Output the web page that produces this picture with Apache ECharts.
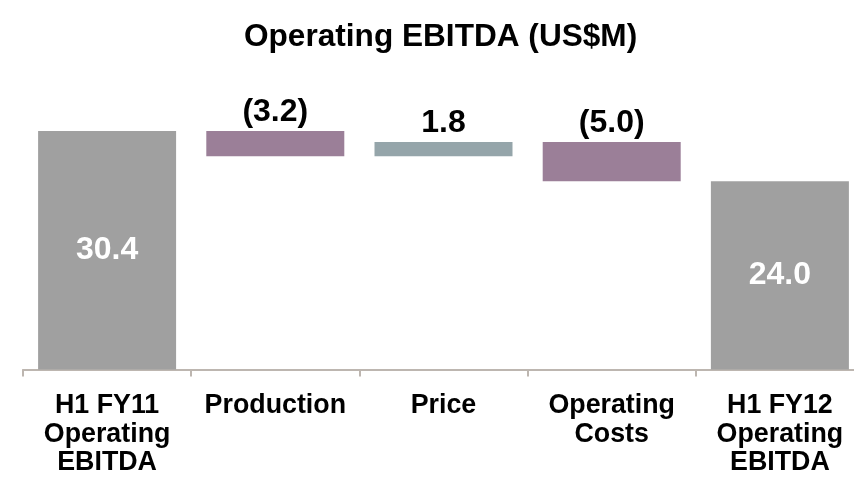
<!DOCTYPE html>
<html>
<head>
<meta charset="utf-8">
<script src="https://cdn.jsdelivr.net/npm/echarts@6/dist/echarts.min.js"></script>
<style>
    html, body { margin: 0; padding: 0; background: #fff; overflow: hidden; }
    #main { width: 864px; height: 477px; }
</style>
</head>
<body>
<div id="main"></div>
<script>
// categories and values (start, deltas, end)
var categories = ['H1 FY11\nOperating\nEBITDA', 'Production', 'Price', 'Operating\nCosts', 'H1 FY12\nOperating\nEBITDA'];
var values = [30.4, -3.2, 1.8, -5.0, 24.0];
var isTotal = [true, false, false, false, true];
var colors = ['#a0a0a0', '#9b7f98', '#95a5aa', '#9b7f98', '#a0a0a0'];

// build waterfall: invisible base + visible bar
var base = [];
var bars = [];
var running = 0;
for (var i = 0; i < values.length; i++) {
    if (isTotal[i]) {
        base.push(0);
        bars.push({value: values[i], itemStyle: {color: colors[i]},
            label: {position: 'inside', color: '#fff'}});
        running = values[i];
    } else {
        var next = running + values[i];
        base.push(Math.min(running, next));
        bars.push({value: Math.abs(values[i]), itemStyle: {color: colors[i]},
            label: {position: 'top', color: '#000'}});
        running = next;
    }
}

function fmt(idx) {
    var v = values[idx];
    if (v < 0) return '(' + Math.abs(v).toFixed(1) + ')';
    return v.toFixed(1);
}

// chart is 10px wider than the window: the axis runs off the right edge
var myChart = echarts.init(document.getElementById('main'));
var option = {
    backgroundColor: '#fff',
    animation: false,
    textStyle: {fontFamily: 'Liberation Sans, Arial, sans-serif'},
    title: {
        text: 'Operating EBITDA (US$M)',
        left: 244,
        top: 21,
        padding: 0,
        textStyle: {fontSize: 31.6, fontWeight: 'bold', color: '#000', fontFamily: 'Liberation Sans'}
    },
    grid: {
        top: 95,
        left: 23,
        right: 0,
        bottom: 106
    },
    xAxis: {
        type: 'category',
        data: categories,
        axisLine: {lineStyle: {color: '#bdb6b0', width: 2}},
        axisTick: {show: true, length: 7, lineStyle: {color: '#bdb6b0', width: 2}},
        axisLabel: {
            interval: 0,
            margin: 22,
            fontSize: 26.8,
            fontWeight: 'bold',
            color: '#000',
            lineHeight: 28.5,
            fontFamily: 'Liberation Sans'
        }
    },
    yAxis: {
        type: 'value',
        min: 0,
        max: 35,
        show: false
    },
    series: [
        {
            name: 'base',
            type: 'bar',
            stack: 'wf',
            data: base,
            itemStyle: {color: 'transparent'},
            barWidth: 138,
            silent: true
        },
        {
            name: 'ebitda',
            type: 'bar',
            stack: 'wf',
            data: bars,
            barWidth: 138,
            label: {
                show: true,
                fontSize: 32,
                fontWeight: 'bold',
                distance: 3,
                fontFamily: 'Liberation Sans',
                formatter: function (p) { return fmt(p.dataIndex); }
            }
        }
    ]
};
myChart.setOption(option);
</script>
</body>
</html>
